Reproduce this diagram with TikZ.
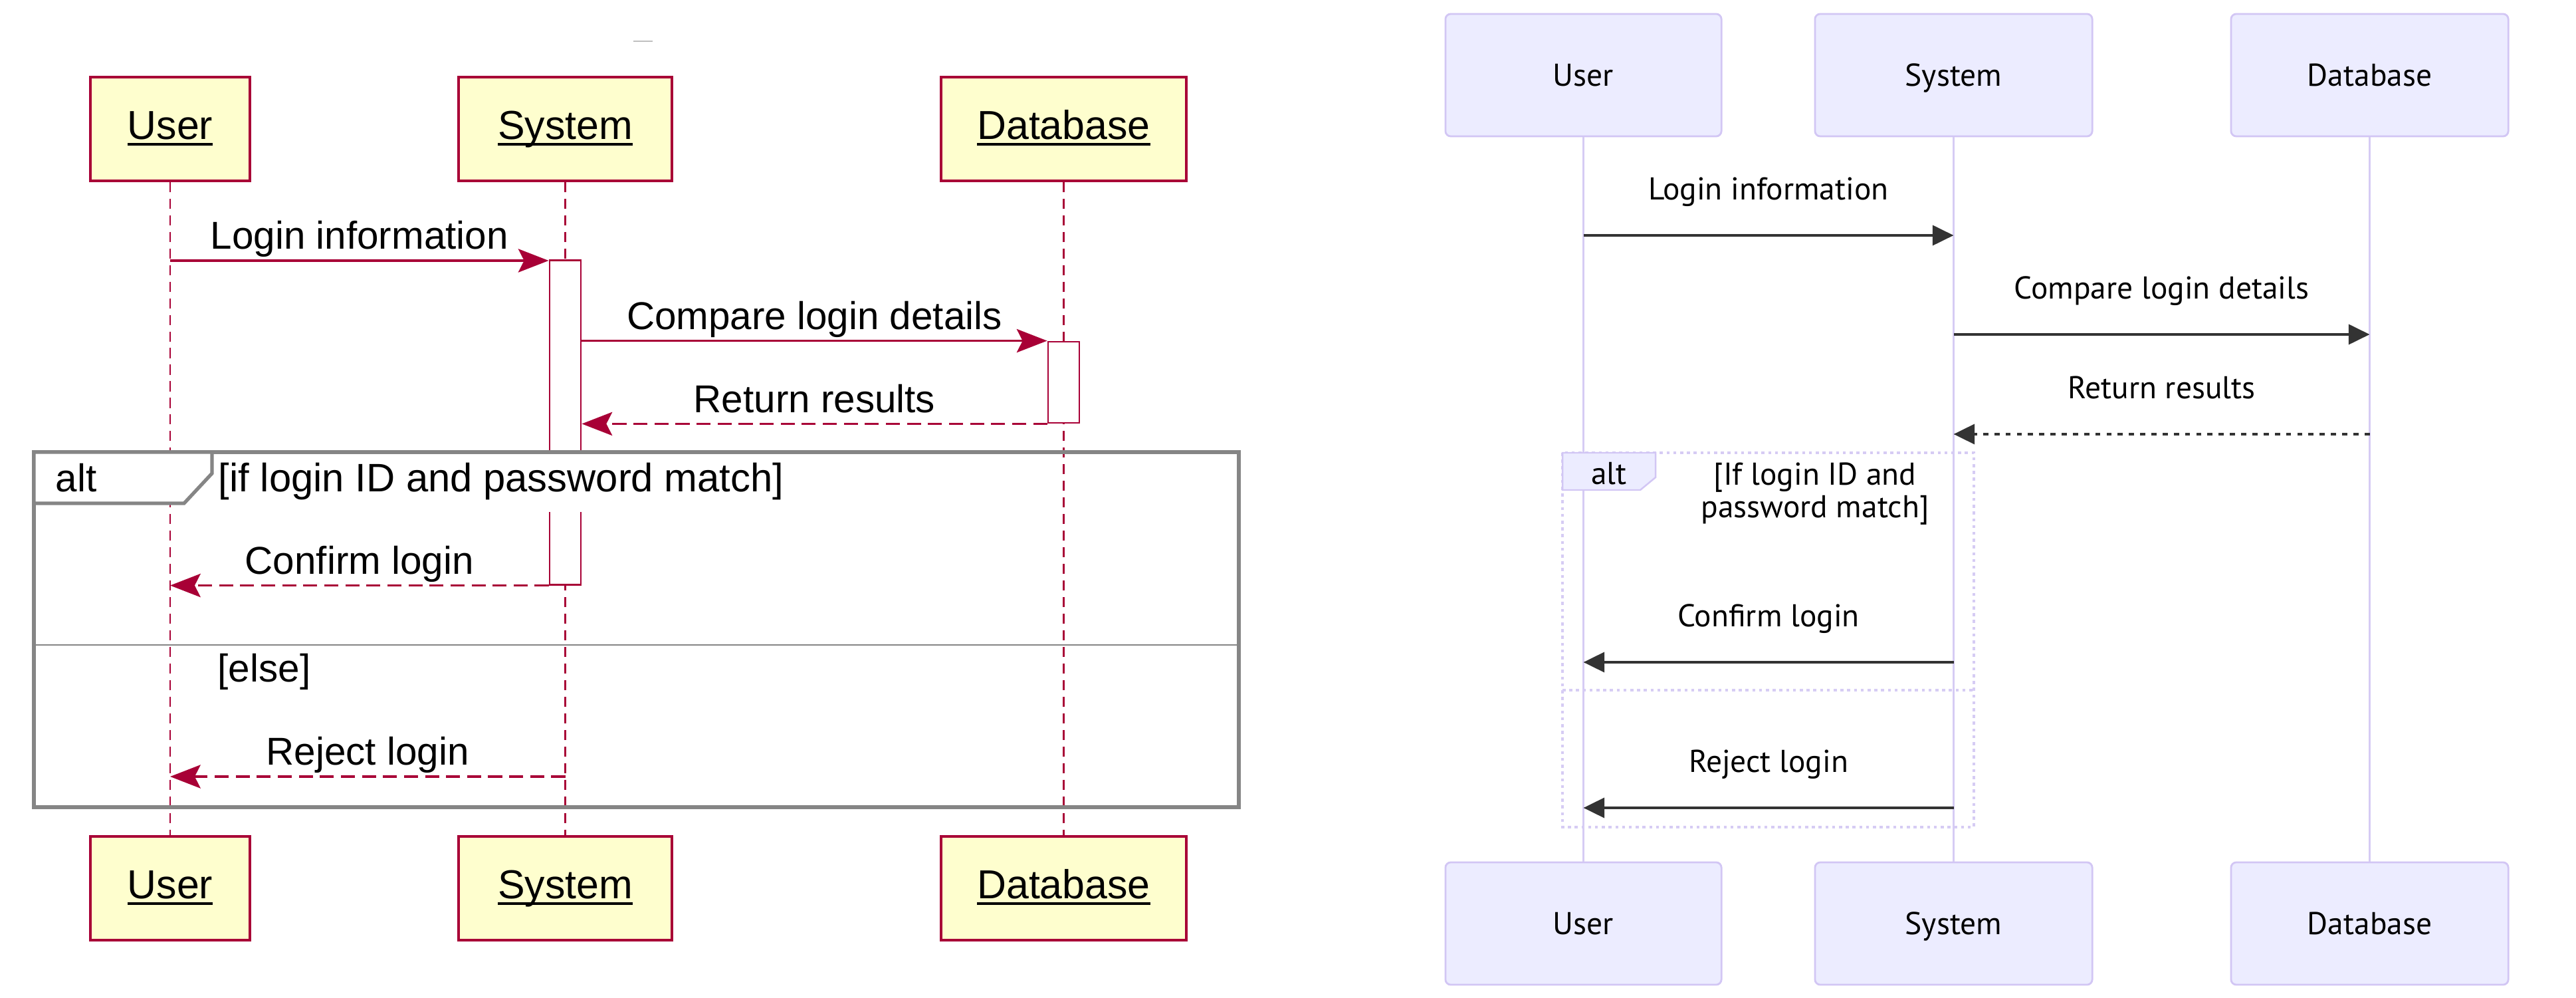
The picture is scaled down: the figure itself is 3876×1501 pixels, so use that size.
\documentclass[tikz,border=0pt]{standalone}
\usepackage{fontspec}
\setmainfont{Liberation Sans}
\newfontfamily\mermaidfont{PT Sans}
\usetikzlibrary{arrows.meta}

\definecolor{pumlred}{HTML}{A80036}
\definecolor{pumlyellow}{HTML}{FEFECE}
\definecolor{pumlgray}{HTML}{858585}
\definecolor{mfill}{HTML}{ECECFF}
\definecolor{mborder}{HTML}{D2C6F4}
\definecolor{mline}{HTML}{D6CCF4}
\definecolor{mdark}{HTML}{333333}

% participant name with an underline at a fixed depth
\newcommand{\pname}[1]{\setbox0\hbox{#1}\rlap{\rule[-2.6pt]{\wd0}{0.9pt}}\box0}

\tikzset{
  % left panel looks
  pbox/.style={draw=pumlred, fill=pumlyellow, line width=1pt, minimum height=1.56cm, text height=12.4pt, text depth=3.6pt, font=\fontsize{17.3}{20}\selectfont},
  plife/.style={pumlred, line width=0.7pt, dash pattern=on 4.3pt off 2.8pt},
  pact/.style={draw=pumlred, fill=white, line width=0.8pt, minimum width=0.47cm, inner sep=0pt},
  pmsg/.style={pumlred, line width=1.1pt, -{Stealth[length=13pt,width=10pt,inset=2.5pt]}},
  pret/.style={pmsg, dash pattern=on 6pt off 3pt},
  plabel/.style={anchor=base, yshift=0.17cm, inner sep=0pt, text=black, font=\fontsize{16.6}{19}\selectfont},
  ptext/.style={anchor=base west, inner sep=0pt, font=\fontsize{16.6}{19}\selectfont},
  pframe/.style={draw=pumlgray, line width=1.5pt},
  psep/.style={draw=pumlgray, line width=0.8pt},
  % right panel looks
  mbox/.style={draw=mborder, fill=mfill, line width=0.8pt, rounded corners=0.08cm, minimum height=1.84cm, text height=12.6pt, text depth=3pt, font=\mermaidfont\fontsize{13.5}{16}\selectfont},
  mlife/.style={mline, line width=1.1pt},
  mmsg/.style={mdark, line width=1.2pt, -{Triangle[length=9pt,width=8.5pt]}},
  mret/.style={mmsg, dash pattern=on 2.2pt off 2.6pt},
  mlabel/.style={anchor=base, yshift=0.53cm, inner sep=0pt, text=black, font=\mermaidfont\fontsize{13.5}{16}\selectfont},
  mtext/.style={inner sep=0pt, font=\mermaidfont\fontsize{13.5}{14}\selectfont},
  mframe/.style={draw=mline, line width=0.9pt, dash pattern=on 1.3pt off 1.6pt},
  mtab/.style={draw=mborder, fill=mfill, line width=0.7pt},
}

\begin{document}
\begin{tikzpicture}[x=0.01cm,y=-0.01cm]
\useasboundingbox (0,0) rectangle (3876,1501);

% === LEFT PANEL: PlantUML sequence ===
\begin{scope}
    % stray title mark
    \draw[gray!50, line width=0.8pt] (953,62) -- (982,62);

    % Participants, top and bottom
    \node[pbox, minimum width=2.4cm]  (userT) at (256,194)   {\pname{User}};
    \node[pbox, minimum width=3.21cm] (sysT)  at (850.5,194) {\pname{System}};
    \node[pbox, minimum width=3.69cm] (dbT)   at (1600.5,194) {\pname{Database}};
    \node[pbox, minimum width=2.4cm]  (userB) at (256,1336)   {\pname{User}};
    \node[pbox, minimum width=3.21cm] (sysB)  at (850.5,1336) {\pname{System}};
    \node[pbox, minimum width=3.69cm] (dbB)   at (1600.5,1336) {\pname{Database}};

    % Lifelines
    \draw[plife] (userT) -- (userB);
    \draw[plife] (sysT) -- (sysB);
    \draw[plife] (dbT) -- (dbB);

    % Activation bars
    \node[pact, minimum height=4.87cm] (actS) at (850.5,635.5) {};
    \node[pact, minimum height=1.22cm] (actD) at (1600.5,575) {};

    % alt fragment
    \node[ptext, fill=white, inner ysep=5pt, font=\fontsize{17}{19}\selectfont] (condL) at (328,740) {[if login ID and password match]};
    \draw[pframe] (51,680) rectangle (1864,1214);
    \draw[psep] (51,970) -- (1864,970);
    \draw[pframe, fill=white] (51,680) -- (319,680) -- (319,712) -- (277,757) -- (51,757) -- cycle;
    \node[ptext] (altL) at (83,740) {alt};
    \node[ptext] (elseL) at (327,1025) {[else]};

    % Messages
    \draw[pmsg] (userT |- 0,392) -- node[plabel] {Login information} (actS.west |- 0,392);
    \draw[pmsg] (actS.east |- actD.north) -- node[plabel] {Compare login details} (actD.north west);
    \draw[pret] (actD.south west) -- node[plabel] {Return results} (actS.east |- actD.south);
    \draw[pret] (actS.south west) -- node[plabel] {Confirm login} (userT |- actS.south);
    \draw[pret] (sysT |- 0,1168) -- node[plabel] {Reject login} (userT |- 0,1168);
\end{scope}

% === RIGHT PANEL: Mermaid sequence ===
\begin{scope}
    % Participants, top and bottom
    \node[mbox, minimum width=4.15cm] (muserT) at (2382.5,113) {User};
    \node[mbox, minimum width=4.17cm] (msysT)  at (2939.5,113) {System};
    \node[mbox, minimum width=4.17cm] (mdbT)   at (3565.5,113) {Database};
    \node[mbox, minimum width=4.15cm] (muserB) at (2382.5,1389) {User};
    \node[mbox, minimum width=4.17cm] (msysB)  at (2939.5,1389) {System};
    \node[mbox, minimum width=4.17cm] (mdbB)   at (3565.5,1389) {Database};

    % Lifelines
    \draw[mlife] (muserT) -- (muserB);
    \draw[mlife] (msysT) -- (msysB);
    \draw[mlife] (mdbT) -- (mdbB);

    % alt fragment
    \draw[mframe] (2351,681) rectangle (2970,1244);
    \draw[mframe] (2351,1038) -- (2970,1038);
    \draw[mtab] (2351,681) -- (2491,681) -- (2491,718) -- (2468,737) -- (2351,737) -- cycle;
    \node[mtext] (maltL) at (2421,712) {alt};
    \node[mtext, align=center] (mcond) at (2731,743) {[If login ID and\\password match]};

    % Messages
    \draw[mmsg] (muserT |- 0,354) -- node[mlabel] {Login information} (msysT |- 0,354);
    \draw[mmsg] (msysT |- 0,503) -- node[mlabel] {Compare login details} (mdbT |- 0,503);
    \draw[mret] (mdbT |- 0,653) -- node[mlabel] {Return results} (msysT |- 0,653);
    \draw[mmsg] (msysT |- 0,996) -- node[mlabel] {Confirm login} (muserT |- 0,996);
    \draw[mmsg] (msysT |- 0,1215) -- node[mlabel] {Reject login} (muserT |- 0,1215);
\end{scope}

\end{tikzpicture}
\end{document}
